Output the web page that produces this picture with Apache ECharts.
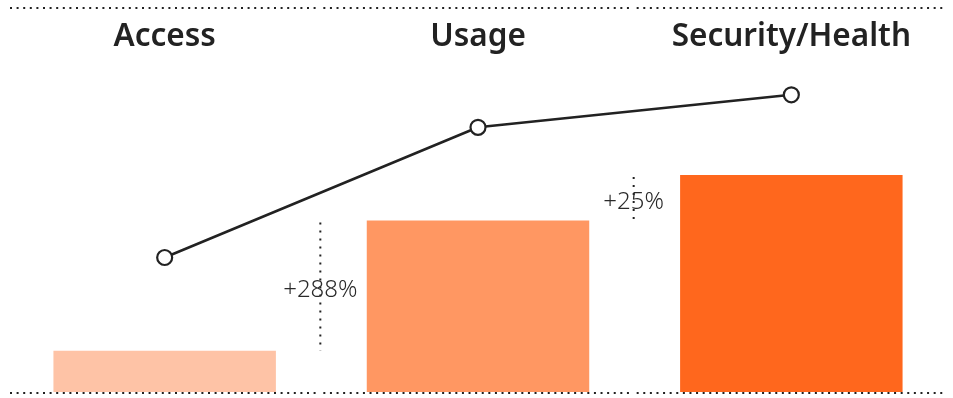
<!DOCTYPE html>
<html><head><meta charset="utf-8">
<script src="https://cdn.jsdelivr.net/npm/echarts@6/dist/echarts.min.js"></script>
<style>html,body{margin:0;padding:0;background:#fff}#c{width:953px;height:398px}</style>
</head><body><div id="c"></div>
<script>
var categories = ['Access', 'Usage', 'Security/Health'];
var barValues = [19, 79, 100];
var lineValues = [62, 122, 137];
var changeLabels = ['+288%', '+25%'];
var barColors = ['#FEC3A6', '#FF9762', '#FF671D'];
var yMax = 177;

var chart = echarts.init(document.getElementById('c'));

function guideRender(params, api) {
  var i = params.dataIndex;
  var size = api.size([1, 0]);
  var bw = size[0];
  var c0 = api.coord([i, 0]);
  var cTop = api.coord([i, yMax]);
  var x0 = c0[0] - bw / 2 + 2;
  var x1 = c0[0] + bw / 2 - 5;
  var dotStyle = {stroke: '#222', lineWidth: 2, lineDash: [2, 4.6], fill: null};
  var children = [
    {type: 'line', shape: {x1: x0, y1: c0[1] + 1, x2: x1, y2: c0[1] + 1}, style: dotStyle, silent: true},
    {type: 'line', shape: {x1: x0, y1: cTop[1], x2: x1, y2: cTop[1]}, style: dotStyle, silent: true}
  ];
  if (i > 0) {
    var xb = c0[0] - bw / 2 - 1;
    var ya = api.coord([i, barValues[i]])[1] + 2;
    var yb = api.coord([i - 1, barValues[i - 1]])[1];
    children.push({type: 'line', shape: {x1: xb, y1: ya, x2: xb, y2: yb},
      style: {stroke: '#222', lineWidth: 2, lineDash: [2, 6], fill: null}, silent: true});
    children.push({type: 'text', x: xb, y: (ya + yb) / 2 + 3,
      style: {text: changeLabels[i - 1], fill: '#2a2a2a', font: '300 24px "Noto Sans"', align: 'center', verticalAlign: 'middle'}, silent: true});
  }
  return {type: 'group', children: children};
}

chart.setOption({
  animation: false,
  grid: {left: 8, right: 5, top: 8, bottom: 6},
  xAxis: [{
    type: 'category', data: categories, position: 'bottom',
    axisLine: {show: false}, axisTick: {show: false}, axisLabel: {show: false}
  }, {
    type: 'category', data: categories, position: 'top',
    axisLine: {show: false}, axisTick: {show: false},
    axisLabel: {inside: true, margin: 13, color: '#222', fontSize: 31.5, fontWeight: 600, fontFamily: 'Noto Sans'}
  }],
  yAxis: {type: 'value', min: 0, max: yMax, show: false, splitLine: {show: false}},
  series: [{
    type: 'bar', data: barValues.map(function (v, i) { return {value: v, itemStyle: {color: barColors[i]}}; }),
    barWidth: '71%', z: 1
  }, {
    type: 'custom', renderItem: guideRender, data: barValues, z: 2
  }, {
    type: 'line', data: lineValues, symbol: 'circle', symbolSize: 15,
    lineStyle: {color: '#222', width: 2.6},
    itemStyle: {color: '#fff', borderColor: '#222', borderWidth: 2.2},
    z: 3
  }]
});
</script>
</body></html>
